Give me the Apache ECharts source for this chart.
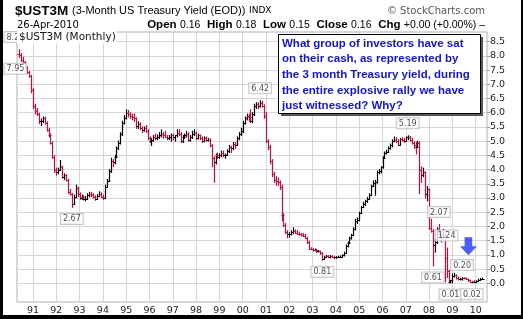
<!DOCTYPE html>
<html><head><meta charset="utf-8">
<script src="https://cdn.jsdelivr.net/npm/echarts@6/dist/echarts.min.js"></script>
<style>
html,body{margin:0;padding:0;background:#fff;}
#wrap{position:relative;width:523px;height:319px;}
#c{width:523px;height:319px;}
#frame{position:absolute;left:0;top:0;width:523px;height:319px;box-sizing:border-box;border-left:3px solid #000;border-right:2px solid #000;border-bottom:4px solid #000;pointer-events:none;}
</style></head>
<body><div id="wrap"><div id="c"></div><div id="frame"></div></div>
<script>
// Monthly bars from June 1990 to April 2010
const firstYear = 1990, firstMonth = 6;
const open = [
 8.05,8.02,7.85,7.78,7.60,7.42,7.30,
 6.80,6.25,6.05,5.95,5.70,5.70,5.80,5.65,5.40,5.20,4.95,4.45,
 4.00,3.90,4.00,4.10,3.75,3.80,3.65,3.20,3.15,2.80,3.05,3.35,
 3.15,3.00,3.05,2.95,2.98,3.10,3.15,3.10,3.05,2.98,3.08,3.15,
 3.05,3.00,3.40,3.60,3.95,4.30,4.25,4.45,4.75,4.95,5.25,5.65,
 5.80,6.00,5.95,5.90,5.85,5.80,5.55,5.60,5.45,5.40,5.45,5.35,
 5.10,5.00,5.05,5.15,5.10,5.15,5.20,5.25,5.20,5.15,5.10,5.15,
 5.20,5.15,5.20,5.30,5.25,5.00,5.15,5.20,5.25,5.05,5.15,5.25,
 5.30,5.10,5.20,5.10,5.00,5.10,5.05,5.05,4.85,4.40,4.25,4.50,
 4.45,4.50,4.60,4.50,4.52,4.65,4.80,4.75,4.90,4.85,5.10,5.25,
 5.35,5.65,5.80,5.90,5.85,5.70,5.95,6.25,6.30,6.25,6.35,6.25,
 5.90,5.00,4.80,4.30,3.85,3.65,3.60,3.55,3.40,2.40,2.05,1.80,
 1.72,1.75,1.80,1.85,1.78,1.75,1.72,1.70,1.68,1.60,1.45,1.22,
 1.20,1.17,1.18,1.12,1.12,1.05,0.85,0.94,0.96,0.94,0.95,0.92,
 0.91,0.92,0.94,0.94,0.98,1.08,1.30,1.42,1.58,1.70,1.90,2.20,
 2.22,2.48,2.68,2.78,2.88,2.98,3.10,3.42,3.52,3.55,3.92,3.95,
 4.08,4.42,4.60,4.63,4.77,4.85,5.00,5.05,5.02,4.88,5.08,5.05,
 5.02,5.13,5.15,5.04,4.95,4.85,4.80,4.95,4.00,3.80,3.90,3.15,
 3.30,1.95,1.85,1.35,1.45,1.90,1.75,1.65,1.70,0.90,0.45,0.05,
 0.10,0.25,0.28,0.20,0.14,0.14,0.19,0.17,0.14,0.10,0.05,0.04,
 0.06,0.08,0.13,0.15
];
const high = [
 8.22,8.08,7.95,7.80,7.62,7.45,7.32,
 6.85,6.30,6.15,5.98,5.78,5.85,5.85,5.68,5.45,5.25,4.98,4.50,
 4.05,4.05,4.32,4.12,3.85,3.82,3.66,3.30,3.16,3.10,3.45,3.38,
 3.18,3.10,3.08,3.05,3.15,3.20,3.20,3.15,3.08,3.12,3.22,3.18,
 3.10,3.45,3.65,4.00,4.40,4.35,4.50,4.80,5.00,5.30,5.70,5.90,
 6.10,6.08,6.00,5.95,5.95,5.82,5.68,5.65,5.50,5.50,5.55,5.40,
 5.15,5.10,5.20,5.25,5.22,5.30,5.40,5.30,5.35,5.20,5.20,5.25,
 5.25,5.20,5.40,5.40,5.30,5.20,5.25,5.35,5.30,5.20,5.35,5.40,
 5.32,5.25,5.22,5.15,5.15,5.15,5.10,5.08,4.88,4.45,4.55,4.58,
 4.55,4.65,4.65,4.55,4.70,4.85,4.82,4.95,4.95,5.15,5.30,5.45,
 5.70,5.85,5.95,5.95,6.10,6.00,6.30,6.35,6.35,6.42,6.40,6.28,
 6.00,5.05,4.85,4.35,3.90,3.75,3.70,3.60,3.45,2.45,2.10,1.85,
 1.78,1.85,1.95,1.88,1.85,1.80,1.75,1.75,1.72,1.62,1.48,1.25,
 1.22,1.20,1.20,1.16,1.14,1.08,0.95,0.98,0.98,0.97,0.97,0.94,
 0.94,0.95,0.96,1.00,1.10,1.35,1.45,1.62,1.72,1.95,2.25,2.30,
 2.50,2.70,2.85,2.92,3.02,3.15,3.45,3.60,3.62,3.95,4.00,4.10,
 4.45,4.62,4.68,4.80,4.90,5.05,5.15,5.12,5.05,5.10,5.12,5.10,
 5.15,5.19,5.16,5.10,4.98,4.95,5.00,4.98,4.10,4.05,3.92,3.40,
 3.32,2.25,1.90,1.55,1.95,2.07,1.75,1.90,1.72,1.24,0.45,0.10,
 0.33,0.35,0.30,0.22,0.18,0.20,0.20,0.19,0.15,0.11,0.07,0.08,
 0.09,0.14,0.17,0.18
];
const low = [
 7.95,7.80,7.72,7.55,7.38,7.25,6.70,
 6.15,5.95,5.90,5.62,5.55,5.65,5.60,5.35,5.15,4.90,4.40,3.90,
 3.80,3.85,3.98,3.70,3.65,3.60,3.15,3.10,2.67,2.78,3.00,3.05,
 2.95,2.95,2.93,2.90,2.95,3.05,3.05,3.00,2.92,2.95,3.05,3.02,
 2.95,3.00,3.38,3.58,3.90,4.10,4.20,4.42,4.70,4.90,5.20,5.60,
 5.78,5.85,5.80,5.75,5.70,5.45,5.45,5.40,5.30,5.35,5.30,5.05,
 4.95,4.85,5.00,5.05,5.05,5.10,5.15,5.10,5.15,5.05,5.05,5.00,
 5.05,5.00,5.15,5.20,4.95,4.95,5.10,5.15,5.00,5.00,5.10,5.20,
 5.05,5.08,5.05,4.95,4.98,5.00,5.00,4.80,4.10,3.56,4.20,4.40,
 4.40,4.45,4.45,4.40,4.50,4.60,4.60,4.70,4.75,4.85,5.05,5.20,
 5.30,5.60,5.75,5.70,5.65,5.65,5.90,6.15,6.15,6.20,6.20,5.80,
 4.95,4.70,4.20,3.75,3.55,3.45,3.45,3.30,2.20,2.00,1.75,1.60,
 1.62,1.70,1.74,1.76,1.72,1.70,1.66,1.64,1.58,1.40,1.20,1.18,
 1.14,1.15,1.08,1.10,1.02,0.81,0.84,0.92,0.92,0.90,0.90,0.86,
 0.88,0.91,0.92,0.92,0.96,1.05,1.28,1.40,1.55,1.68,1.88,2.10,
 2.20,2.45,2.66,2.74,2.85,2.95,3.08,3.40,3.10,3.52,3.85,3.88,
 4.05,4.40,4.55,4.60,4.72,4.80,4.98,4.95,4.85,4.86,5.00,4.95,
 5.00,5.05,5.00,4.90,4.75,4.55,4.78,3.15,3.55,3.75,3.00,2.90,
 1.90,1.80,0.61,1.10,1.40,1.70,1.45,1.60,0.05,0.20,0.03,0.01,
 0.02,0.22,0.15,0.12,0.12,0.11,0.15,0.13,0.06,0.04,0.02,0.03,
 0.03,0.07,0.10,0.13
];
const close = [
 8.02,7.85,7.78,7.60,7.42,7.30,6.80,
 6.25,6.05,5.95,5.70,5.70,5.80,5.65,5.40,5.20,4.95,4.45,4.00,
 3.90,4.00,4.10,3.75,3.80,3.65,3.20,3.15,2.80,3.05,3.35,3.15,
 3.00,3.05,2.95,2.98,3.10,3.15,3.10,3.05,2.98,3.08,3.15,3.05,
 3.00,3.40,3.60,3.95,4.30,4.25,4.45,4.75,4.95,5.25,5.65,5.80,
 6.00,5.95,5.90,5.85,5.80,5.55,5.60,5.45,5.40,5.45,5.35,5.10,
 5.00,5.05,5.15,5.10,5.15,5.20,5.25,5.20,5.15,5.10,5.15,5.20,
 5.15,5.20,5.30,5.25,5.00,5.15,5.20,5.25,5.05,5.15,5.25,5.30,
 5.10,5.20,5.10,5.00,5.10,5.05,5.05,4.85,4.40,4.25,4.50,4.45,
 4.50,4.60,4.50,4.52,4.65,4.80,4.75,4.90,4.85,5.10,5.25,5.35,
 5.65,5.80,5.90,5.85,5.70,5.95,6.25,6.30,6.25,6.35,6.25,5.90,
 5.00,4.80,4.30,3.85,3.65,3.60,3.55,3.40,2.40,2.05,1.80,1.72,
 1.75,1.80,1.85,1.78,1.75,1.72,1.70,1.68,1.60,1.45,1.22,1.20,
 1.17,1.18,1.12,1.12,1.05,0.85,0.94,0.96,0.94,0.95,0.92,0.91,
 0.92,0.94,0.94,0.98,1.08,1.30,1.42,1.58,1.70,1.90,2.20,2.22,
 2.48,2.68,2.78,2.88,2.98,3.10,3.42,3.52,3.55,3.92,3.95,4.08,
 4.42,4.60,4.63,4.77,4.85,5.00,5.05,5.02,4.88,5.08,5.05,5.02,
 5.13,5.15,5.04,4.95,4.85,4.80,4.95,4.00,3.80,3.90,3.15,3.30,
 1.95,1.85,1.35,1.45,1.90,1.75,1.65,1.70,0.90,0.45,0.05,0.10,
 0.25,0.28,0.20,0.14,0.14,0.19,0.17,0.14,0.10,0.05,0.04,0.06,
 0.08,0.13,0.15,0.16
];
// Annotated turning points
const noteMonths = ['1990-06','1990-06','1992-09','2000-10','2003-06','2007-02','2008-03','2008-06','2008-10','2008-12','2009-06','2009-11'];
const noteValues = [8.22,7.95,2.67,6.42,0.81,5.19,0.61,2.07,1.24,0.01,0.20,0.02];
const noteKinds  = ['high','low','low','high','low','high','low','high','high','low','high','low'];
const arrowAt = ['2009-09', 1.30];
const yearTicks = [1991,1992,1993,1994,1995,1996,1997,1998,1999,2000,2001,2002,2003,2004,2005,2006,2007,2008,2009,2010];
const yTicks = [0,0.5,1,1.5,2,2.5,3,3.5,4,4.5,5,5.5,6,6.5,7,7.5,8,8.5];
const quote = {date:'26-Apr-2010', open:'0.16', high:'0.18', low:'0.15', close:'0.16', chg:'+0.00 (+0.00%)'};
const question = 'What group of investors have sat\non their cash, as represented by\nthe 3 month Treasury yield, during\nthe entire explosive rally we have\njust witnessed? Why?';

function monthPos(ym){const [y,m]=ym.split('-').map(Number);return y+(m-1)/12;}
function idxPos(i){const k=firstMonth-1+i;return firstYear+Math.floor(k/12)+(k%12)/12;}

const bars = open.map((o,i)=>[idxPos(i),o,high[i],low[i],close[i]]);
const notes = noteMonths.map((m,i)=>({
  value:[monthPos(m),noteValues[i]],
  label:{position: noteKinds[i]==='high'?'top':'bottom', distance: noteKinds[i]==='high'?7:6,
         offset: i<2?[-4,0]:[0,0]}
}));

const RED='#c0103c';
const chart = echarts.init(document.getElementById('c'));
chart.setOption({
  animation:false,
  grid:{left:17,right:36,top:32,bottom:17,show:true,borderColor:'#b0b0b0',borderWidth:1,backgroundColor:'#fff'},
  xAxis:{type:'value',min:1990.313,max:2010.485,
    axisLine:{show:false},
    axisTick:{show:false,customValues:yearTicks},
    axisLabel:{customValues:yearTicks,formatter:v=>String(Math.round(v)%100).padStart(2,'0'),
      color:'#222',fontSize:9.5,fontFamily:'DejaVu Sans',margin:4},
    splitLine:{show:true,lineStyle:{color:'#d6d6d6',width:1}}},
  yAxis:{type:'value',position:'right',min:-0.658,max:8.84,
    axisLine:{show:false},
    axisTick:{show:true,length:3,customValues:yTicks,lineStyle:{color:'#a0a0a0'}},
    axisLabel:{customValues:yTicks,formatter:v=>v.toFixed(1),color:'#222',fontSize:9.5,fontFamily:'DejaVu Sans',margin:3},
    splitLine:{show:true,lineStyle:{color:'#d6d6d6',width:1}}},
  series:[
    {type:'custom',data:bars,encode:{x:0,y:[1,2,3,4]},clip:false,
     renderItem:function(params,api){
       const x=api.value(0),o=api.value(1),h=api.value(2),l=api.value(3),c=api.value(4);
       const pH=api.coord([x,h]),pL=api.coord([x,l]),pO=api.coord([x,o]),pC=api.coord([x,c]);
       const col=c>=o?'#000':RED;
       const px=Math.round(pH[0])+0.5;
       const yo=Math.round(pO[1])+0.5, yc=Math.round(pC[1])+0.5;
       return {type:'group',children:[
         {type:'line',shape:{x1:px,y1:pH[1]-0.5,x2:px,y2:pL[1]+0.5},style:{stroke:col,lineWidth:1.2}},
         {type:'line',shape:{x1:px-2,y1:yo,x2:px,y2:yo},style:{stroke:col,lineWidth:1}},
         {type:'line',shape:{x1:px,y1:yc,x2:px+2,y2:yc},style:{stroke:col,lineWidth:1}}
       ]};
     }},
    {type:'scatter',data:notes,symbolSize:1,itemStyle:{color:'rgba(0,0,0,0)'},z:5,
     label:{show:true,formatter:p=>p.value[1].toFixed(2),fontSize:8,fontFamily:'DejaVu Sans',color:'#222',
       backgroundColor:'#fff',borderColor:'#b8b8b8',borderWidth:1,padding:[1,2,0,2],lineHeight:9}},
    {type:'scatter',data:[[monthPos(arrowAt[0])+0.02,arrowAt[1]]],
     symbol:'path://M5,0L13,0L13,9L18,9L9,18L0,9L5,9Z',symbolSize:[17,18],symbolKeepAspect:false,
     itemStyle:{color:'#1f34ff'},z:6}
  ],
  graphic:[
    {type:'text',x:15,y:11,z:100,style:{text:'$UST3M',font:'bold 13.5px "Liberation Sans", Arial',fill:'#000',verticalAlign:'middle'}},
    {type:'text',x:72,y:11,z:100,style:{text:'(3-Month US Treasury Yield (EOD))',font:'11px "Liberation Sans", Arial',fill:'#000',verticalAlign:'middle'}},
    {type:'text',x:249,y:11,z:100,style:{text:'INDX',font:'9px "DejaVu Sans"',fill:'#000',verticalAlign:'middle'}},
    {type:'text',x:485,y:11,z:100,style:{text:'\u00a9 StockCharts.com',font:'10px "DejaVu Sans"',fill:'#555',align:'right',verticalAlign:'middle'}},
    {type:'text',x:17,y:25,z:100,style:{text:quote.date,font:'10px "DejaVu Sans"',fill:'#000',verticalAlign:'middle'}},
    {type:'text',x:485,y:25,z:100,style:{
      text:'{b|Open} {n|'+quote.open+'}  {b|High} {n|'+quote.high+'}  {b|Low} {n|'+quote.low+'}  {b|Close} {n|'+quote.close+'}  {b|Chg} {n|'+quote.chg+' \u2013}',
      align:'right',verticalAlign:'middle',
      rich:{b:{font:'bold 11.5px "Liberation Sans", Arial',fill:'#000'},n:{font:'10.5px "Liberation Sans", Arial',fill:'#000'}}}},
    {type:'text',x:17,y:37,z:100,style:{text:'$UST3M (Monthly)',font:'10.5px "DejaVu Sans"',fill:'#111',verticalAlign:'middle',backgroundColor:'#fff',padding:[1,1,1,2]}},
    {type:'rect',z:100,shape:{x:281,y:37,width:202,height:79},style:{fill:'#555'}},
    {type:'rect',z:101,shape:{x:278.5,y:34.5,width:202,height:79},style:{fill:'#fff',stroke:'#000',lineWidth:1}},
    {type:'text',x:282,y:35.5,z:102,style:{text:question,font:'bold 11.5px "Liberation Sans", Arial',fill:'#1414c8',lineHeight:15.7,verticalAlign:'top'}}
  ]
});
</script></body></html>
